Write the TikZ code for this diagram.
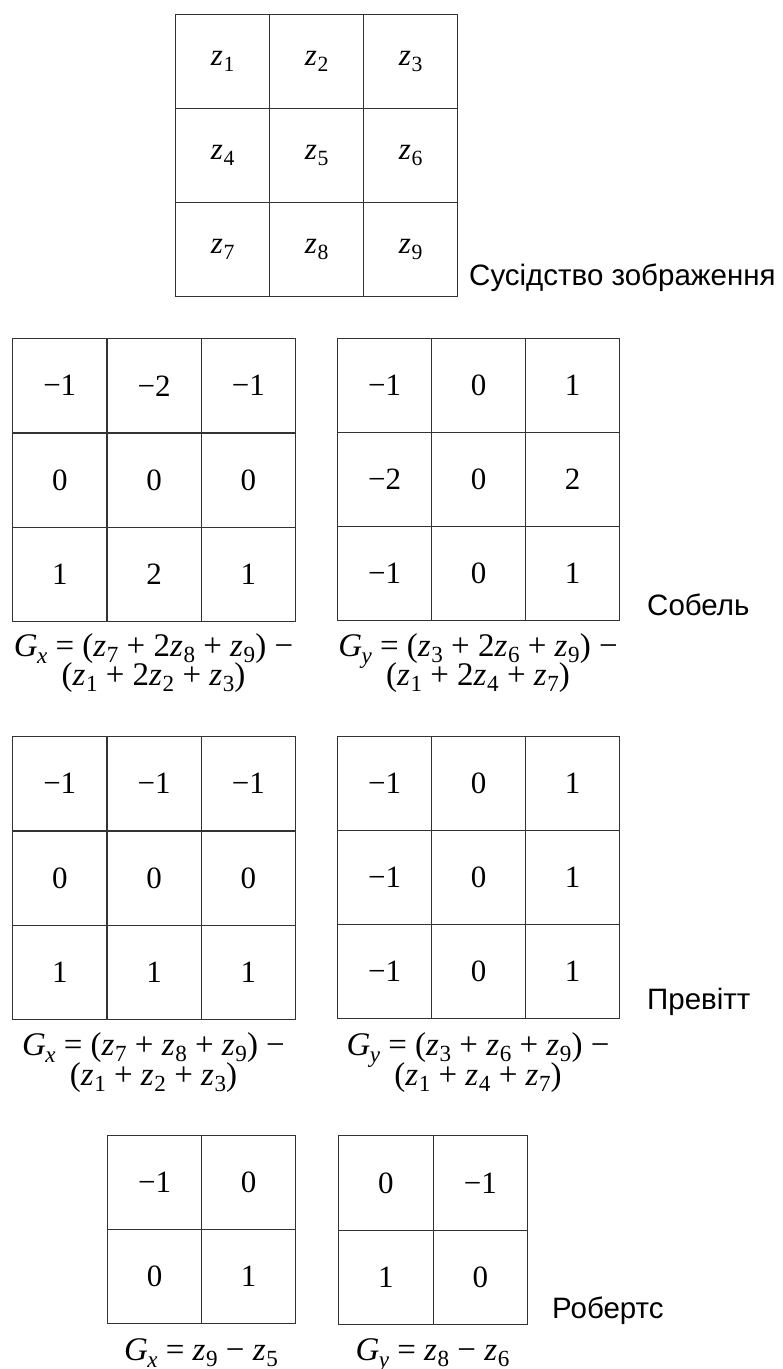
\documentclass[tikz,border=0pt]{standalone}
\usepackage{fontspec}
\usepackage{graphicx}
\setmainfont{Liberation Serif}
\newfontfamily\labfont{Liberation Sans}
\usetikzlibrary{matrix}
\newcommand\zsub[1]{\textit{z}\kern0.02em\raisebox{-0.2em}{\scalebox{0.7}{#1}}}
\newcommand\Gsub[1]{\textit{G}\kern-0.02em\raisebox{-0.22em}{\scalebox{0.7}{\textit{#1}}}}
\newcommand\cellfont{\fontsize{31}{33}\selectfont}
\newcommand\formfont{\fontsize{33}{35}\selectfont}
\newcommand\labelfont{\labfont\fontsize{29.5}{31}\selectfont}
\definecolor{linec}{gray}{0.2}
\begin{document}
\begin{tikzpicture}[x=1pt,y=-1pt,
 kmat/.style={matrix of nodes, anchor=north west, inner sep=0pt, outer sep=0pt,
   column sep=-1.2pt, row sep=-1.2pt,
   nodes={draw=linec, line width=1.2pt, minimum size=#1, inner sep=0pt, outer sep=0pt,
          anchor=center, font=\cellfont}},
 kmat/.default=94pt,
 frame/.style={draw=linec, line width=1.7pt},
 formula/.style={anchor=base, font=\formfont, inner sep=0pt},
 lab/.style={anchor=base west, font=\labelfont, inner sep=0pt}]
\useasboundingbox (0,0) rectangle (783,1369);

% image neighbourhood
\matrix[kmat] (nb) at (175,14) {
 \zsub{1} & \zsub{2} & \zsub{3} \\
 \zsub{4} & \zsub{5} & \zsub{6} \\
 \zsub{7} & \zsub{8} & \zsub{9} \\
};
\draw[frame] (nb-1-1.north west) rectangle (nb-3-3.south east);
\node[lab] (lnb) at (469,285) {Сусідство зображення};

% Sobel
\matrix[kmat=94.3pt] (sx) at (12,338) {
 −1 & −2 & −1 \\
 0 & 0 & 0 \\
 1 & 2 & 1 \\
};
\draw[frame] (sx-1-1.north west) rectangle (sx-3-3.south east);
\matrix[kmat] (sy) at (337,338) {
 −1 & 0 & 1 \\
 −2 & 0 & 2 \\
 −1 & 0 & 1 \\
};
\draw[frame] (sy-1-1.north west) rectangle (sy-3-3.south east);
\node[lab] (lsobel) at (647,615) {Собель};
\node[formula] (sgx1) at (153.5,656) {\Gsub{x} = (\zsub{7} + 2\zsub{8} + \zsub{9}) −};
\node[formula] (sgx2) at (153.5,685) {(\zsub{1} + 2\zsub{2} + \zsub{3})};
\node[formula] (sgy1) at (478,656) {\Gsub{y} = (\zsub{3} + 2\zsub{6} + \zsub{9}) −};
\node[formula] (sgy2) at (478,685) {(\zsub{1} + 2\zsub{4} + \zsub{7})};

% Prewitt
\matrix[kmat=94.3pt] (px) at (12,736) {
 −1 & −1 & −1 \\
 0 & 0 & 0 \\
 1 & 1 & 1 \\
};
\draw[frame] (px-1-1.north west) rectangle (px-3-3.south east);
\matrix[kmat] (py) at (337,736) {
 −1 & 0 & 1 \\
 −1 & 0 & 1 \\
 −1 & 0 & 1 \\
};
\draw[frame] (py-1-1.north west) rectangle (py-3-3.south east);
\node[lab] (lprewitt) at (647,1009) {Превітт};
\node[formula] (pgx1) at (153.5,1055) {\Gsub{x} = (\zsub{7} + \zsub{8} + \zsub{9}) −};
\node[formula] (pgx2) at (153.5,1085) {(\zsub{1} + \zsub{2} + \zsub{3})};
\node[formula] (pgy1) at (478,1055) {\Gsub{y} = (\zsub{3} + \zsub{6} + \zsub{9}) −};
\node[formula] (pgy2) at (478,1085) {(\zsub{1} + \zsub{4} + \zsub{7})};

% Roberts
\matrix[kmat] (rx) at (107,1135) {
 −1 & 0 \\
 0 & 1 \\
};
\draw[frame] (rx-1-1.north west) rectangle (rx-2-2.south east);
\matrix[kmat=94.5pt] (ry) at (338,1135) {
 0 & −1 \\
 1 & 0 \\
};
\draw[frame] (ry-1-1.north west) rectangle (ry-2-2.south east);
\node[lab] (lroberts) at (552,1318) {Робертс};
\node[formula] (rgx) at (201,1360) {\Gsub{x} = \zsub{9} − \zsub{5}};
\node[formula] (rgy) at (432.5,1360) {\Gsub{y} = \zsub{8} − \zsub{6}};
\end{tikzpicture}
\end{document}
